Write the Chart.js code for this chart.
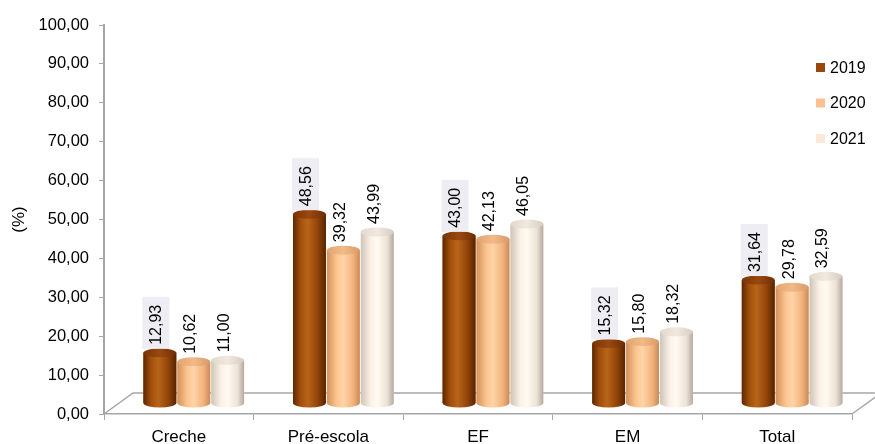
<!DOCTYPE html>
<html>
<head>
<meta charset="utf-8">
<script src="https://cdn.jsdelivr.net/npm/chart.js@4"></script>
<style>
  html, body { margin: 0; padding: 0; background: #ffffff; }
  canvas { display: block; }
</style>
</head>
<body>
<canvas id="chart" width="875" height="444"></canvas>
<script>
// Categories and values (%) per year
const categories = ['Creche', 'Pré-escola', 'EF', 'EM', 'Total'];
const seriesNames = ['2019', '2020', '2021'];
const values2019 = [12.93, 48.56, 43.00, 15.32, 31.64];
const values2020 = [10.62, 39.32, 42.13, 15.80, 29.78];
const values2021 = [11.00, 43.99, 46.05, 18.32, 32.59];
const yMin = 0, yMax = 100, yStep = 10;

const FONT = "'Liberation Sans', Arial, sans-serif";
const fmt = v => Number(v).toFixed(2).replace('.', ',');

// Flat colours (legend) and cylinder shading per series
const seriesStyle = [
  { color: '#99470A',
    body: [[0, '#5E2700'], [0.22, '#A04E0C'], [0.45, '#B8651A'], [0.75, '#924409'], [1, '#572400']],
    top: [[0, '#7A3504'], [0.5, '#9A4810'], [1, '#6E2E02']] },
  { color: '#FAC090',
    body: [[0, '#D4915A'], [0.3, '#FBC590'], [0.5, '#FFD4A8'], [0.8, '#F2B27C'], [1, '#C98A58']],
    top: [[0, '#E2A472'], [0.5, '#F2BA88'], [1, '#D89A68']] },
  { color: '#FDE9D9',
    body: [[0, '#CFC4B8'], [0.3, '#FBF1E6'], [0.5, '#FFFAF2'], [0.8, '#EDE2D6'], [1, '#B3A99F']],
    top: [[0, '#E2D8CE'], [0.5, '#F1E8DE'], [1, '#D6CCC2']] }
];

const seriesValues = [values2019, values2020, values2021];

// Floor of the 3D plot area (back edge and side edges)
const floorPlugin = {
  id: 'floor',
  beforeDatasetsDraw(chart) {
    const { ctx, chartArea } = chart;
    const dx = 29, dy = 21;
    const l = chartArea.left, r = chartArea.right, b = chartArea.bottom;
    ctx.save();
    ctx.strokeStyle = '#A6A6A6';
    ctx.lineWidth = 1.5;
    ctx.beginPath();
    ctx.moveTo(l, b); ctx.lineTo(l + dx, b - dy); ctx.lineTo(r + dx, b - dy);
    ctx.moveTo(r, b); ctx.lineTo(r + dx, b - dy);
    ctx.stroke();
    ctx.restore();
  }
};

// Cylinder shading over each bar, plus rotated value labels
const cylinderPlugin = {
  id: 'cylinders',
  afterDatasetsDraw(chart) {
    const ctx = chart.ctx;
    chart.data.datasets.forEach((ds, di) => {
      const st = seriesStyle[di];
      const meta = chart.getDatasetMeta(di);
      meta.data.forEach((bar) => {
        const { x, y, base, width } = bar.getProps(['x', 'y', 'base', 'width'], true);
        const l = x - width / 2, r = x + width / 2, rx = width / 2, ry = 4.5;
        ctx.save();
        const g = ctx.createLinearGradient(l, 0, r, 0);
        st.body.forEach(([o, c]) => g.addColorStop(o, c));
        ctx.fillStyle = g;
        ctx.beginPath();
        ctx.moveTo(l, y);
        ctx.lineTo(l, base);
        ctx.ellipse(x, base, rx, ry, 0, Math.PI, 0, true);
        ctx.lineTo(r, y);
        ctx.closePath();
        ctx.fill();
        const gt = ctx.createLinearGradient(l, 0, r, 0);
        st.top.forEach(([o, c]) => gt.addColorStop(o, c));
        ctx.fillStyle = gt;
        ctx.beginPath();
        ctx.ellipse(x, y, rx, ry, 0, 0, Math.PI * 2);
        ctx.fill();
        ctx.restore();
      });
    });

    chart.data.datasets.forEach((ds, di) => {
      const meta = chart.getDatasetMeta(di);
      meta.data.forEach((bar, i) => {
        const { x, y } = bar.getProps(['x', 'y'], true);
        const text = fmt(ds.data[i].y);
        ctx.save();
        ctx.font = '16px ' + FONT;
        ctx.translate(x - 4, y - 8);
        ctx.rotate(-Math.PI / 2);
        ctx.textAlign = 'left';
        ctx.textBaseline = 'middle';
        if (di === 0) {
          const tw = ctx.measureText(text).width;
          ctx.fillStyle = '#EDEDF3';
          ctx.fillRect(-4, -13.5, tw + 12, 27);
        }
        ctx.fillStyle = '#000000';
        ctx.fillText(text, 0, 1);
        ctx.restore();
      });
    });
  }
};

// Legend on the right, inside the plot
const legendPlugin = {
  id: 'sideLegend',
  afterDraw(chart) {
    const ctx = chart.ctx;
    ctx.save();
    ctx.font = '16px ' + FONT;
    ctx.textBaseline = 'middle';
    ctx.textAlign = 'left';
    chart.data.datasets.forEach((ds, di) => {
      const cy = 67.5 + di * 35.5;
      ctx.fillStyle = ds.backgroundColor;
      ctx.fillRect(816, cy - 4.5, 9, 9);
      ctx.fillStyle = '#000000';
      ctx.fillText(ds.label, 830, cy + 1);
    });
    ctx.restore();
  }
};

Chart.defaults.font.family = FONT;

new Chart(document.getElementById('chart'), {
  type: 'bar',
  data: {
    labels: categories,
    datasets: seriesNames.map((name, di) => ({
      label: name,
      data: seriesValues[di].map((v, i) => ({ x: i, y: v })),
      backgroundColor: seriesStyle[di].color,
      xAxisID: 'xb',
      yAxisID: 'yb',
      categoryPercentage: 0.68,
      barPercentage: 0.97
    }))
  },
  options: {
    responsive: false,
    animation: false,
    layout: { padding: { top: 25, right: 23, bottom: 0, left: 0 } },
    plugins: { legend: { display: false }, tooltip: { enabled: false } },
    scales: {
      x: {
        type: 'category',
        position: 'bottom',
        offset: true,
        grid: { offset: true, drawOnChartArea: false, tickLength: 6, color: '#A6A6A6' },
        border: { color: '#A6A6A6', width: 1.5 },
        ticks: { font: { size: 17 }, color: '#000000', padding: 7, maxRotation: 0, autoSkip: false },
        afterFit(s) { s.height = 30; }
      },
      y: {
        type: 'linear',
        position: 'left',
        min: yMin,
        max: yMax,
        ticks: { stepSize: yStep, callback: v => fmt(v), font: { size: 16.5 }, color: '#000000', padding: 10 },
        grid: { drawOnChartArea: false, tickLength: 5, color: '#A6A6A6' },
        border: { color: '#A6A6A6', width: 2 },
        title: { display: true, text: '(%)', font: { size: 17 }, color: '#000000', padding: { top: 9, bottom: 0 } },
        afterFit(s) { s.width = 104; }
      },
      // depth-shifted scales the cylinders stand on
      xb: {
        type: 'linear', display: false, offset: false, min: -0.6, max: 4.4,
        afterBuildTicks(s) { s.ticks = categories.map((c, i) => ({ value: i })); }
      },
      yb: { type: 'linear', display: false, min: yMin - 2.8, max: yMax - 2.8 }
    }
  },
  plugins: [floorPlugin, cylinderPlugin, legendPlugin]
});
</script>
</body>
</html>
